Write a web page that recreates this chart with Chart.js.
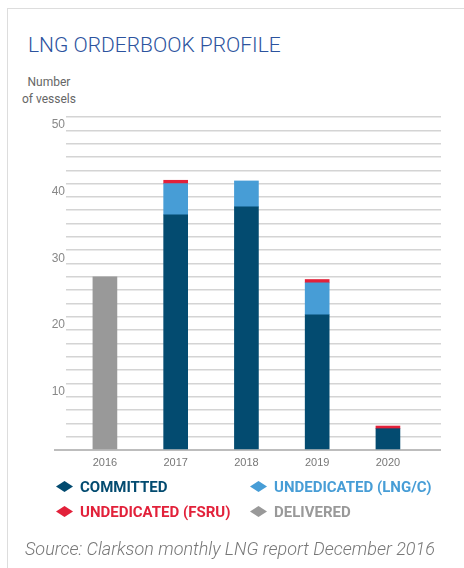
<!DOCTYPE html>
<html>
<head>
<meta charset="utf-8">
<script src="https://cdn.jsdelivr.net/npm/chart.js@4.4.1/dist/chart.umd.min.js"></script>
<style>
  body { margin: 0; width: 464px; height: 568px; position: relative; background: #fff; overflow: hidden; font-family: Roboto, sans-serif; }
  .frame { position: absolute; left: 7px; top: 8px; right: 0; bottom: 0; border-left: 1px solid #ddd; border-top: 1px solid #ddd; }
  #title { position: absolute; left: 28px; top: 33px; font-weight: 300; font-size: 21px; color: #2c539e; white-space: nowrap; }
  #unit { position: absolute; left: 14px; top: 74px; width: 70px; text-align: center; font-size: 12px; line-height: 17px; color: #666; }
  #chartBox { position: absolute; left: 0; top: 100px; width: 464px; height: 380px; }
  #legend { position: absolute; left: 56px; top: 474px; display: grid; grid-template-columns: 194px auto; }
  .item { display: flex; align-items: center; height: 25px; font-weight: 700; font-size: 15px; white-space: nowrap; }
  .item svg { margin-right: 7px; }
  #source { position: absolute; left: 25px; top: 538px; font-style: italic; font-weight: 300; font-size: 18px; color: #777; white-space: nowrap; }
</style>
</head>
<body>
<div class="frame"></div>
<div id="title">LNG ORDERBOOK PROFILE</div>
<div id="unit">Number<br>of vessels</div>
<div id="chartBox"><canvas id="orderbook"></canvas></div>
<div id="legend"></div>
<div id="source">Source: Clarkson monthly LNG report December 2016</div>
<script>
const years = [2016, 2017, 2018, 2019, 2020];
const committed = [null, 35.3, 36.5, 20.3, 3.2];
const undedicatedLngc = [null, 4.7, 3.9, 4.8, null];
const undedicatedFsru = [null, 0.5, null, 0.5, 0.4];
const delivered = [26, null, null, null, null];

const seriesNames = ['COMMITTED', 'UNDEDICATED (LNG/C)', 'UNDEDICATED (FSRU)', 'DELIVERED'];
const seriesColors = ['#034b70', '#479dd6', '#e2213a', '#999999'];
const seriesValues = [committed, undedicatedLngc, undedicatedFsru, delivered];

// baseline runs a little past the chart area on the left
const baselinePlugin = {
    id: 'baseline',
    beforeDatasetsDraw(chart) {
        const { ctx, chartArea, scales } = chart;
        const y = scales.y.getPixelForValue(0);
        ctx.save();
        ctx.strokeStyle = '#bdbdbd';
        ctx.lineWidth = 2;
        ctx.beginPath();
        ctx.moveTo(chartArea.left - 12, y);
        ctx.lineTo(chartArea.left, y);
        ctx.stroke();
        ctx.restore();
    }
};

const datasets = seriesNames.map((name, i) => ({
    label: name,
    data: years.map((yr, j) => ({ x: yr, y: seriesValues[i][j] })),
    backgroundColor: seriesColors[i],
    borderWidth: 0,
    barThickness: 24,
    stack: 'all'
}));

const ctx = document.getElementById('orderbook').getContext('2d');
new Chart(ctx, {
    type: 'bar',
    data: { datasets: datasets },
    plugins: [baselinePlugin],
    options: {
        responsive: true,
        maintainAspectRatio: false,
        animation: false,
        layout: { padding: { left: 46, right: 23, top: 17, bottom: 10 } },
        plugins: {
            legend: { display: false },
            tooltip: { enabled: false }
        },
        scales: {
            x: {
                type: 'linear',
                stacked: true,
                min: 2015.45,
                max: 2020.75,
                offset: false,
                grid: { display: false },
                border: { display: false },
                ticks: {
                    stepSize: 1,
                    includeBounds: false,
                    autoSkip: false,
                    maxRotation: 0,
                    padding: -2,
                    color: '#777',
                    font: { size: 11 },
                    callback: (v) => String(v)
                },
                afterFit: (s) => { s.height = 20; }
            },
            y: {
                stacked: true,
                min: 0,
                max: 50,
                border: { display: false },
                grid: {
                    drawTicks: false,
                    color: (c) => c.tick.value === 0 ? '#bdbdbd' : '#d4d4d4',
                    lineWidth: (c) => c.tick.value === 0 ? 2 : 1.5
                },
                ticks: {
                    stepSize: 2,
                    autoSkip: false,
                    labelOffset: 8,
                    padding: 1,
                    color: '#888',
                    font: { size: 12 },
                    callback: (v) => (v % 10 === 0 && v > 0) ? v : ''
                },
                afterFit: (s) => { s.width = 20; }
            }
        }
    }
});

// legend built from the same series arrays
const legend = document.getElementById('legend');
seriesNames.forEach((name, i) => {
    const item = document.createElement('div');
    item.className = 'item';
    item.style.color = seriesColors[i];
    item.innerHTML = '<svg width="17" height="11"><polygon points="0,5.5 8.5,0 17,5.5 8.5,11" fill="' + seriesColors[i] + '"/></svg>' + name;
    legend.appendChild(item);
});
</script>
</body>
</html>
